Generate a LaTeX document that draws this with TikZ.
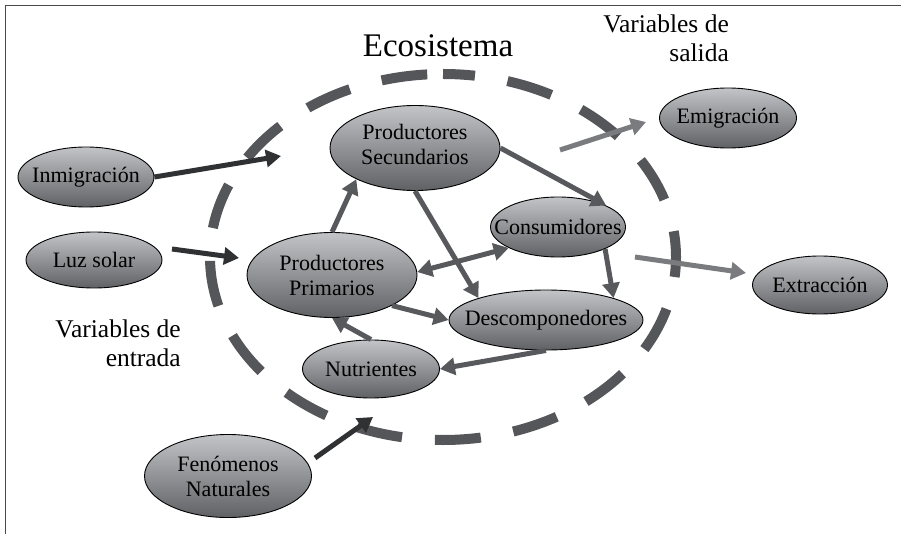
\documentclass[tikz,border=0pt]{standalone}
\usepackage{fontspec}
\setmainfont{Liberation Serif}
\usetikzlibrary{shapes.geometric, arrows.meta}
\definecolor{nodetop}{HTML}{C2C4C7}
\definecolor{nodebottom}{HTML}{606164}
\definecolor{ringgray}{HTML}{55565A}
\definecolor{flowdark}{HTML}{2F3133}
\definecolor{flowmid}{HTML}{58595C}
\definecolor{flowlight}{HTML}{7A7B7E}
\definecolor{framegray}{HTML}{4A4A4A}

\begin{document}
\begin{tikzpicture}[x=1pt, y=-1pt, >={Triangle[length=15pt, width=17pt]},
  var/.style={ellipse, draw=black, line width=0.9pt, top color=nodetop, bottom color=nodebottom, inner sep=0pt},
  vartext/.style={inner sep=0pt, align=center, font=\fontsize{22}{25}\selectfont},
  flow/.style={line width=5pt, ->},
  label/.style={inner sep=0pt, align=right, font=\fontsize{25.5}{29}\selectfont}]
\useasboundingbox (0,0) rectangle (901,534);

% open frame, top and left only
\draw[framegray, line width=1.2pt] (5.5,534) -- (5.5,5.5) -- (901,5.5);

% ecosystem ring
\draw[ringgray, line width=10pt, dash pattern=on 46pt off 33pt, dash phase=14pt] (443,74) arc[start angle=-90, end angle=270, x radius=233, y radius=183];
\node[font=\fontsize{33}{38}\selectfont, anchor=base] (ecolabel) at (438,57) {Ecosistema};

% input and output variables
\node[var, minimum width=136pt, minimum height=60pt] (inmigracion) at (86,177) {};
\node[var, minimum width=136pt, minimum height=56pt] (luzsolar) at (94,260) {};
\node[var, minimum width=167pt, minimum height=83pt] (fenomenos) at (228,476) {};
\node[var, minimum width=137pt, minimum height=60pt] (emigracion) at (728,118) {};
\node[var, minimum width=135pt, minimum height=58pt] (extraccion) at (820,285) {};

% inside the ecosystem
\node[var, minimum width=170pt, minimum height=85pt] (secundarios) at (415,148) {};
\node[var, minimum width=170pt, minimum height=85pt] (primarios) at (332,275) {};
\node[var, minimum width=135pt, minimum height=60pt] (consumidores) at (558,227) {};
\node[var, minimum width=194pt, minimum height=60pt] (descomp) at (546,320) {};
\node[var, minimum width=137pt, minimum height=58pt] (nutrientes) at (371,369) {};

% texts on the ellipses
\node[vartext] at (inmigracion.center) {Inmigración};
\node[vartext] at (luzsolar.center) {Luz solar};
\node[vartext] at (fenomenos.center) {Fenómenos\\Naturales};
\node[vartext] at (emigracion.center) {Emigración};
\node[vartext] at (extraccion.center) {Extracción};
\node[vartext] at ([yshift=4pt]secundarios.center) {Productores\\Secundarios};
\node[vartext] at (primarios.center) {Productores\\Primarios};
\node[vartext] at (consumidores.center) {Consumidores};
\node[vartext] at (descomp.center) {Descomponedores};
\node[vartext] at (nutrientes.center) {Nutrientes};

\node[label, anchor=north east] (salida) at (729,15) {Variables de\\salida};
\node[label, anchor=north east] (entrada) at (181,320) {Variables de\\entrada};

% free ends of the outer flows
\coordinate (inmin) at (281,156);
\coordinate (luzout) at (172,249);
\coordinate (luzin) at (239,258);
\coordinate (fenout) at (315,458);
\coordinate (fenin) at (373,417);
\coordinate (emiout) at (560,150);
\coordinate (emiin) at (646,122);
\coordinate (extout) at (635,257);
\coordinate (extin) at (746,273);

\draw[flow, flowdark] (inmigracion.east) -- (inmin);
\draw[flow, flowdark] (luzout) -- (luzin);
\draw[flow, flowdark] (fenout) -- (fenin);
\draw[flow, flowlight] (emiout) -- (emiin);
\draw[flow, flowlight] (extout) -- (extin);

% flows between compartments
\draw[flow, flowmid] (primarios.north) -- (secundarios.208);
\draw[flow, flowmid] (secundarios.east) -- (consumidores.24);
\draw[flow, flowmid] (secundarios.south) -- (descomp.162);
\draw[flow, flowmid, <->] (primarios.2) -- (consumidores.203);
\draw[flow, flowmid] (consumidores.335) -- (descomp.18);
\draw[flow, flowmid] (primarios.333) -- (descomp.west);
\draw[flow, flowmid] (nutrientes.north) -- (primarios.south);
\draw[flow, flowmid] (descomp.south) -- (nutrientes.east);
\end{tikzpicture}
\end{document}
